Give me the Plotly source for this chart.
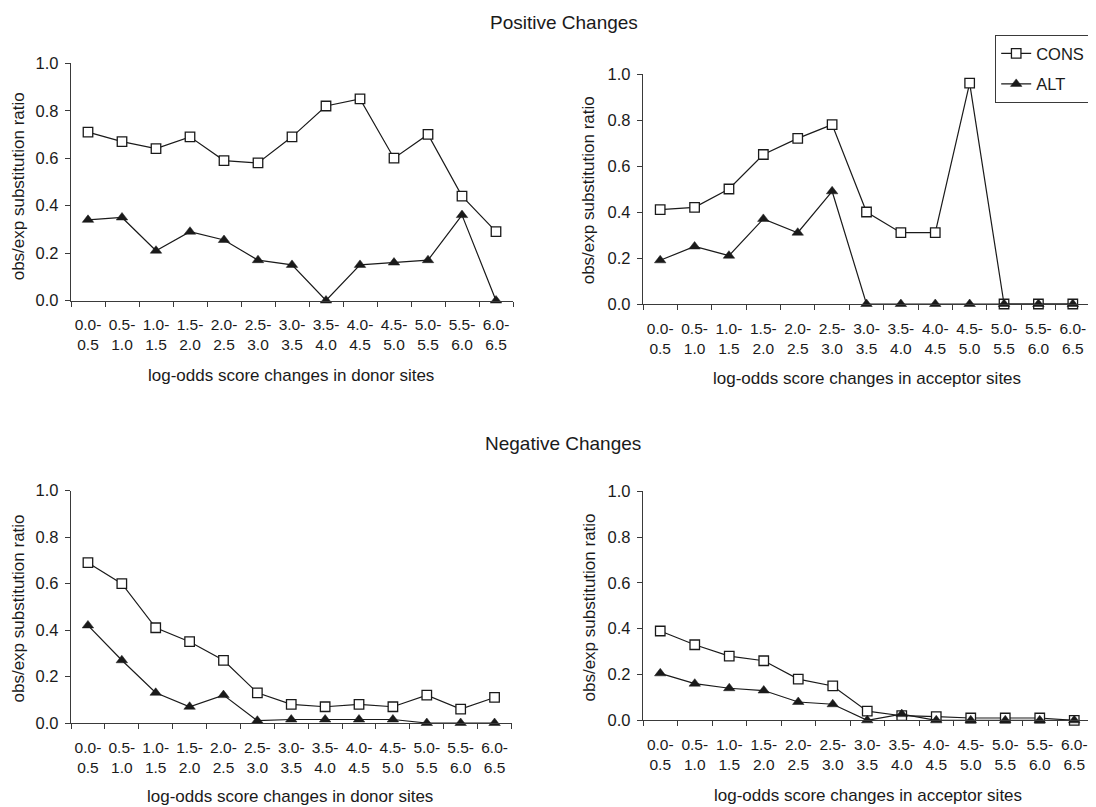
import plotly.graph_objects as go

# ---------------- data ----------------
categories = ["0.0-0.5", "0.5-1.0", "1.0-1.5", "1.5-2.0", "2.0-2.5", "2.5-3.0", "3.0-3.5",
              "3.5-4.0", "4.0-4.5", "4.5-5.0", "5.0-5.5", "5.5-6.0", "6.0-6.5"]
tick_labels = ["0.0-<br>0.5", "0.5-<br>1.0", "1.0-<br>1.5", "1.5-<br>2.0", "2.0-<br>2.5",
               "2.5-<br>3.0", "3.0-<br>3.5", "3.5-<br>4.0", "4.0-<br>4.5", "4.5-<br>5.0",
               "5.0-<br>5.5", "5.5-<br>6.0", "6.0-<br>6.5"]
y_ticks = [0.0, 0.2, 0.4, 0.6, 0.8, 1.0]

pos_donor_cons = [0.71, 0.67, 0.64, 0.69, 0.59, 0.58, 0.69, 0.82, 0.85, 0.60, 0.70, 0.44, 0.29]
pos_donor_alt = [0.34, 0.35, 0.21, 0.29, 0.255, 0.17, 0.15, 0.0, 0.15, 0.16, 0.17, 0.36, 0.0]
pos_acc_cons = [0.41, 0.42, 0.50, 0.65, 0.72, 0.78, 0.40, 0.31, 0.31, 0.96, 0.0, 0.0, 0.0]
pos_acc_alt = [0.19, 0.25, 0.21, 0.37, 0.31, 0.49, 0.0, 0.0, 0.0, 0.0, 0.0, 0.0, 0.0]
neg_donor_cons = [0.69, 0.60, 0.41, 0.35, 0.27, 0.13, 0.08, 0.07, 0.08, 0.07, 0.12, 0.06, 0.11]
neg_donor_alt = [0.42, 0.27, 0.13, 0.07, 0.12, 0.01, 0.015, 0.015, 0.015, 0.015, 0.0, 0.0, 0.0]
neg_acc_cons = [0.39, 0.33, 0.28, 0.26, 0.18, 0.15, 0.04, 0.02, 0.016, 0.01, 0.01, 0.01, 0.0]
neg_acc_alt = [0.205, 0.16, 0.14, 0.13, 0.08, 0.07, 0.0, 0.027, 0.0, 0.0, 0.0, 0.0, 0.0]

series_names = ["CONS", "ALT"]
y_title = "obs/exp substitution ratio"
x_title_donor = "log-odds score changes in donor sites"
x_title_acceptor = "log-odds score changes in acceptor sites"
title_pos = "Positive Changes"
title_neg = "Negative Changes"

# ---------------- figure ----------------
# The page body has an 8px margin, so the figure is drawn 8px smaller and
# all target positions (given in window pixels) are shifted by 8px.
OFF = 8
W, H = 1096 - OFF, 807 - OFF
FONT = "Liberation Sans, Arial, Helvetica, sans-serif"
INK = "#1a1a1a"
AXC = "#3a3a3a"


def px_x(p):
    return (p - OFF) / W


def px_y(p):
    return 1 - (p - OFF) / H


# panel geometry in window pixels: (x0, x1, ytop(1.0), ybottom(0.0))
panels = [
    (71, 513, 63.3, 300.5),
    (643, 1090, 74, 304),
    (71, 511.5, 490.7, 723),
    (643, 1091.5, 491.3, 720.3),
]
data_sets = [
    (pos_donor_cons, pos_donor_alt),
    (pos_acc_cons, pos_acc_alt),
    (neg_donor_cons, neg_donor_alt),
    (neg_acc_cons, neg_acc_alt),
]

fig = go.Figure()

for i, ((x0, x1, yt, yb), (cons, alt)) in enumerate(zip(panels, data_sets)):
    n = "" if i == 0 else str(i + 1)
    xa = "x" + n
    ya = "y" + n
    show = (i == 1)
    fig.add_trace(go.Scatter(
        x=categories, y=cons, name=series_names[0], mode="lines+markers",
        xaxis=xa, yaxis=ya, showlegend=show, legendgroup="cons", cliponaxis=False,
        line=dict(color=INK, width=1.2),
        marker=dict(symbol="square", size=9.5, color="white", line=dict(color=INK, width=1.3)),
    ))
    fig.add_trace(go.Scatter(
        x=categories, y=alt, name=series_names[1], mode="lines+markers",
        xaxis=xa, yaxis=ya, showlegend=show, legendgroup="alt", cliponaxis=False,
        line=dict(color=INK, width=1.2),
        marker=dict(symbol="triangle-up", size=10, color=INK, line=dict(color=INK, width=0.5)),
    ))
    xkey = "xaxis" + n
    ykey = "yaxis" + n
    fig.layout[xkey] = dict(
        domain=[px_x(x0), px_x(x1)], anchor=ya, type="category", automargin=False,
        categoryorder="array", categoryarray=categories,
        range=[-0.5, 12.5], tickmode="array", tickvals=categories, ticktext=tick_labels,
        tickangle=0, ticklabelstandoff=10,
        tickson="boundaries", ticks="outside", ticklen=5, tickwidth=1.2, tickcolor=AXC,
        showline=True, linecolor=AXC, linewidth=1.3, showgrid=False, zeroline=False,
        tickfont=dict(family=FONT, size=15.5, color=INK), fixedrange=True,
    )
    fig.layout[ykey] = dict(
        domain=[px_y(yb), px_y(yt)], anchor=xa, range=[0, 1], automargin=False,
        tickmode="array", tickvals=y_ticks, tickformat=".1f",
        ticks="outside", ticklen=5, tickwidth=1.2, tickcolor=AXC, ticklabelstandoff=3,
        showline=True, linecolor=AXC, linewidth=1.3, showgrid=False, zeroline=False,
        tickfont=dict(family=FONT, size=16.5, color=INK), fixedrange=True,
    )

annotations = [
    dict(text=title_pos, x=px_x(564), y=px_y(22.7), size=19, angle=0),
    dict(text=title_neg, x=px_x(562.5), y=px_y(443.3), size=19, angle=0),
    dict(text=y_title, x=px_x(18.3), y=px_y(186), size=17, angle=-90),
    dict(text=y_title, x=px_x(588.3), y=px_y(190), size=17, angle=-90),
    dict(text=y_title, x=px_x(17.5), y=px_y(609), size=17, angle=-90),
    dict(text=y_title, x=px_x(589), y=px_y(607.5), size=17, angle=-90),
    dict(text=x_title_donor, x=px_x(291), y=px_y(375), size=17, angle=0),
    dict(text=x_title_acceptor, x=px_x(867), y=px_y(378), size=17, angle=0),
    dict(text=x_title_donor, x=px_x(290), y=px_y(796), size=17, angle=0),
    dict(text=x_title_acceptor, x=px_x(867.5), y=px_y(795), size=17, angle=0),
]
fig.update_layout(annotations=[
    dict(text=a["text"], x=a["x"], y=a["y"], xref="paper", yref="paper",
         xanchor="center", yanchor="middle", showarrow=False, textangle=a["angle"],
         font=dict(family=FONT, size=a["size"], color=INK))
    for a in annotations
])

fig.update_layout(
    width=W, height=H,
    margin=dict(l=0, r=0, t=0, b=0, autoexpand=False),
    paper_bgcolor="white", plot_bgcolor="white",
    font=dict(family=FONT, color=INK),
    legend=dict(
        x=px_x(995), y=px_y(35), xanchor="left", yanchor="top",
        bgcolor="white", bordercolor=AXC, borderwidth=1.2,
        font=dict(family=FONT, size=16.5, color=INK),
        tracegroupgap=6, itemwidth=30,
    ),
)

fig.write_html("out.html")
